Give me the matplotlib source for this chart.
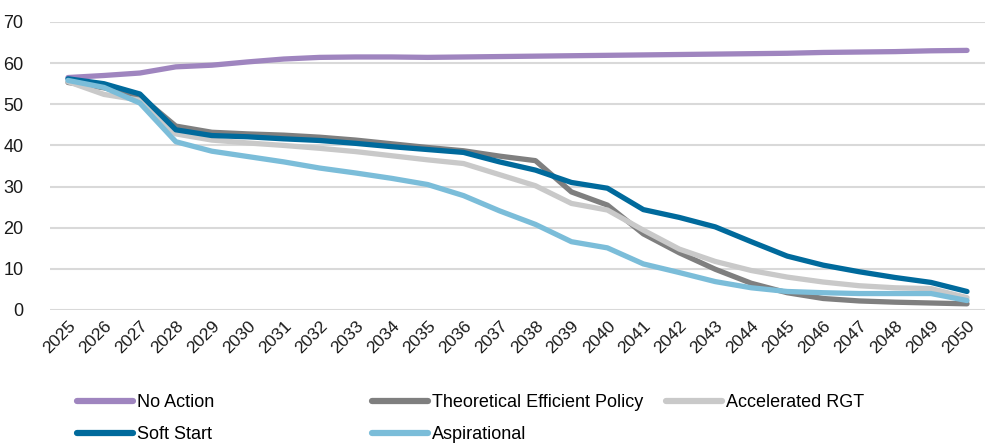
import matplotlib
matplotlib.use("Agg")
import matplotlib.pyplot as plt
from matplotlib.lines import Line2D

# --------- data ---------
years = list(range(2025, 2051))

no_action = [56.5, 57.0, 57.6, 59.1, 59.5, 60.3, 61.0, 61.4, 61.5, 61.5, 61.4, 61.5,
             61.6, 61.7, 61.8, 61.9, 62.0, 62.1, 62.2, 62.3, 62.4, 62.6, 62.7, 62.8,
             63.0, 63.1]
theoretical = [55.3, 54.0, 52.0, 44.7, 43.2, 42.8, 42.5, 42.0, 41.3, 40.4, 39.5, 38.7,
               37.4, 36.3, 28.7, 25.5, 18.5, 13.9, 9.9, 6.5, 4.2, 2.8, 2.2, 1.9,
               1.7, 1.5]
accelerated = [55.5, 52.4, 51.0, 42.8, 41.3, 40.6, 40.0, 39.3, 38.5, 37.5, 36.5, 35.6,
               32.9, 30.2, 25.9, 24.3, 19.4, 14.8, 11.8, 9.6, 8.0, 6.8, 5.9, 5.4,
               5.2, 3.0]
soft_start = [56.2, 55.0, 52.5, 43.8, 42.4, 42.1, 41.6, 41.2, 40.5, 39.7, 39.0, 38.3,
              36.0, 34.0, 31.0, 29.6, 24.4, 22.5, 20.2, 16.6, 13.1, 10.9, 9.3, 7.9,
              6.7, 4.5]
aspirational = [55.8, 54.1, 50.3, 40.9, 38.6, 37.3, 36.0, 34.5, 33.3, 32.0, 30.5, 27.8,
                24.1, 20.8, 16.6, 15.1, 11.2, 9.1, 6.9, 5.4, 4.5, 4.2, 4.0, 4.0,
                4.0, 2.3]

series = [
    ("No Action", no_action, "#9F85BF"),
    ("Theoretical Efficient Policy", theoretical, "#7F7F7F"),
    ("Accelerated RGT", accelerated, "#C9C9C9"),
    ("Soft Start", soft_start, "#006A9C"),
    ("Aspirational", aspirational, "#7BBDD9"),
]

plt.rcParams["font.family"] = ["Liberation Sans Narrow", "Liberation Sans", "DejaVu Sans"]

fig = plt.figure(figsize=(9.88, 4.43), dpi=100)
ax = fig.add_axes([50 / 988, 1 - 310 / 443, 935 / 988, 288 / 443])

x = list(range(len(years)))
for name, vals, col in series:
    ax.plot(x, vals, color=col, lw=3.8, solid_capstyle="round",
            solid_joinstyle="round", label=name)

ax.set_xlim(-0.5, len(years) - 0.5)
ax.set_ylim(0, 70)
ax.set_yticks(range(0, 71, 10))
ax.set_xticks(x)
ax.set_xticklabels([str(y) for y in years], rotation=45, ha="right",
                   rotation_mode="anchor", fontsize=12.5)
ax.tick_params(axis="y", labelsize=13, length=0, pad=19, colors="#1a1a1a")
ax.tick_params(axis="x", length=0, pad=6, colors="#1a1a1a")
ax.grid(axis="y", color="#D9D9D9", lw=1.5)
ax.set_axisbelow(True)
for s in ax.spines.values():
    s.set_visible(False)

# legend, three columns placed by hand
handles = {name: Line2D([], [], color=col, lw=4.5, solid_capstyle="round")
           for name, vals, col in series}
columns = [
    (77, ["No Action", "Soft Start"]),
    (372, ["Theoretical Efficient Policy", "Aspirational"]),
    (666, ["Accelerated RGT"]),
]
for xpos, names in columns:
    fig.legend([handles[n] for n in names], names, loc="upper left",
               bbox_to_anchor=(xpos / 988, 1 - 394 / 443), frameon=False,
               fontsize=13, handlelength=3.1, handletextpad=0.22,
               borderpad=0, borderaxespad=0, labelspacing=0.83)

fig.savefig("out.png", dpi=100)
